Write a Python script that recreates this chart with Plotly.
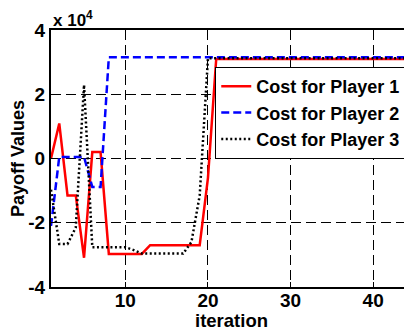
import plotly.graph_objects as go

iterations = list(range(1, 51))

# Values in units of 1e4
player1 = [0.0, 1.09, -1.15, -1.15, -3.09, 0.2, 0.2, -2.97, -2.97, -2.97,
           -2.97, -2.97, -2.7, -2.7, -2.7, -2.7, -2.7, -2.7, -2.7, -0.6] + [3.1] * 30
player2 = [-2.1, 0.05, 0.05, 0.05, 0.05, -0.89, -0.89] + [3.15] * 43
player3 = [-0.97, -2.66, -2.66, -2.15, 2.29, -2.76, -2.76, -2.76, -2.76, -2.76,
           -2.85, -2.96, -2.96, -2.96, -2.96, -2.96, -2.96, -2.6, -1.15] + [3.12] * 31

series_names = ["Cost for Player 1", "Cost for Player 2", "Cost for Player 3"]

ytick_vals = [-4, -2, 0, 2, 4]
ytick_text = ["-4", "-2", "0", "2", "4"]
xtick_vals = [10, 20, 30, 40]
xtick_text = ["10", "20", "30", "40"]

FONT = "Liberation Sans"

fig = go.Figure()
fig.add_trace(go.Scatter(x=iterations, y=player1, mode="lines", name=series_names[0],
                         line=dict(color="#ff0000", width=2.5)))
fig.add_trace(go.Scatter(x=iterations, y=player2, mode="lines", name=series_names[1],
                         line=dict(color="#0000ff", width=2.5, dash="8px,4px")))
fig.add_trace(go.Scatter(x=iterations, y=player3, mode="lines", name=series_names[2],
                         line=dict(color="#000000", width=2.5, dash="2px,2.5px")))

axis_common = dict(
    showgrid=True, gridcolor="black", gridwidth=1, griddash="10px,5px",
    zeroline=False, showline=True, linecolor="black", linewidth=2,
    ticks="inside", ticklen=5, tickcolor="black", tickwidth=1,
    tickfont=dict(family=FONT, size=19, color="black", weight="bold"),
)

fig.update_layout(
    width=412, height=330,
    margin=dict(l=43, r=8, t=22, b=51, autoexpand=False),
    paper_bgcolor="white", plot_bgcolor="white",
    showlegend=True,
    legend=dict(x=0.455, y=0.856, xanchor="left", yanchor="top",
                bgcolor="white", bordercolor="black", borderwidth=1,
                font=dict(family=FONT, size=18, color="black", weight="bold"),
                tracegroupgap=0, itemwidth=30),
    xaxis=dict(range=[1, 44.7], tickvals=xtick_vals, ticktext=xtick_text,
               mirror=True, ticklabelstandoff=-5, **axis_common),
    yaxis=dict(range=[-4, 4], tickvals=ytick_vals, ticktext=ytick_text,
               title=dict(text="Payoff Values", standoff=3,
                          font=dict(family=FONT, size=18, color="black", weight="bold")),
               **axis_common),
    annotations=[
        dict(text="x 10<sup>4</sup>", xref="paper", yref="paper",
             x=0, y=1.0, xanchor="left", yanchor="bottom", showarrow=False,
             yshift=-2,
             font=dict(family=FONT, size=17, color="black", weight="bold")),
        dict(text="iteration", xref="paper", yref="paper",
             x=0.5, y=0, xanchor="center", yanchor="middle", showarrow=False,
             yshift=-33,
             font=dict(family=FONT, size=18.5, color="black", weight="bold")),
    ],
)

fig.write_html("out.html")
